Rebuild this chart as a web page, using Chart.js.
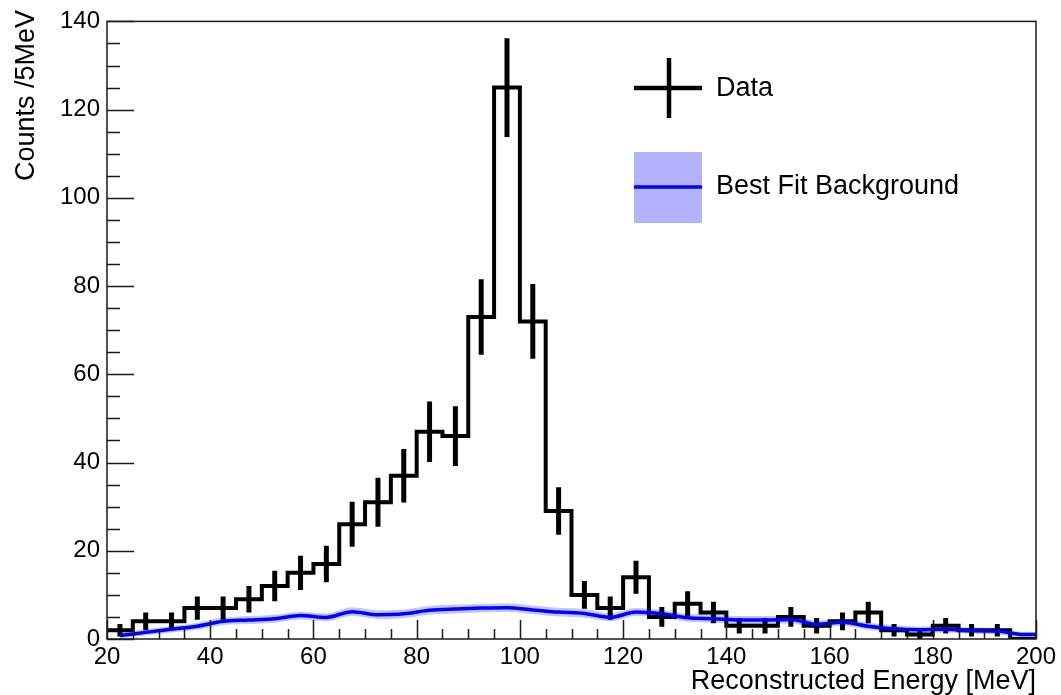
<!DOCTYPE html>
<html>
<head>
<meta charset="utf-8">
<script src="https://cdn.jsdelivr.net/npm/chart.js@4/dist/chart.umd.min.js"></script>
<style>
  html, body { margin: 0; padding: 0; background: #fff; }
  canvas { display: block; }
</style>
</head>
<body>
<canvas id="c" width="1061" height="695"></canvas>
<script>
// Reconstructed energy spectrum, 5 MeV bins from 20 to 200 MeV (left bin edges)
const binLow = [20, 25, 30, 35, 40, 45, 50, 55, 60, 65, 70, 75, 80, 85, 90, 95, 100, 105,
                110, 115, 120, 125, 130, 135, 140, 145, 150, 155, 160, 165, 170, 175, 180, 185, 190, 195];
const binWidth = 5;
const counts = [2, 4, 4, 7, 7, 9, 12, 15, 17, 26, 31, 37, 47, 46, 73, 125, 72, 29,
                10, 7, 14, 5, 8, 6, 3, 3, 5, 3, 4, 6, 2, 1, 3, 2, 2, 0];

// Best-fit background curve and its uncertainty band
const bgEnergy = [22.5, 27.5, 32.5, 37.5, 42.5, 47.5, 52.5, 57.5, 62.5, 67.5, 72.5, 77.5,
                  82.5, 87.5, 92.5, 97.5, 102.5, 107.5, 112.5, 117.5, 122.5, 127.5, 132.5, 137.5,
                  142.5, 147.5, 152.5, 157.5, 162.5, 167.5, 172.5, 177.5, 182.5, 187.5, 192.5, 197.5, 200];
const bgCounts = [0.8, 1.5, 2.2, 2.9, 4.0, 4.3, 4.6, 5.3, 4.9, 6.2, 5.5, 5.7,
                  6.5, 6.8, 7.0, 7.1, 6.6, 6.1, 5.8, 4.9, 6.1, 5.7, 4.8, 4.6,
                  4.3, 4.3, 4.4, 3.3, 3.8, 2.9, 2.3, 2.1, 2.2, 1.9, 1.8, 1.0, 1.0];
const bgBand = [0.6, 0.7, 0.7, 0.8, 0.8, 0.9, 0.9, 0.9, 0.9, 1.0, 1.0, 1.0,
                1.0, 1.0, 1.0, 1.0, 1.0, 1.0, 1.0, 0.9, 0.9, 0.9, 0.9, 0.9,
                0.9, 0.9, 0.9, 0.8, 0.8, 0.8, 0.8, 0.7, 0.7, 0.7, 0.7, 0.6, 0.6];

const xTickStep = 20;
const yTickStep = 20;

const FONT = '"Liberation Sans", Arial, Helvetica, sans-serif';

// Histogram outline: one point per left edge, closed at the last right edge
const histPts = binLow.map((x, i) => ({ x, y: counts[i] }));
histPts.push({ x: binLow[binLow.length - 1] + binWidth, y: counts[counts.length - 1] });

// Poisson error bars at bin centres, separated by gaps
const errPts = [];
counts.forEach((n, i) => {
  if (n <= 0) return;
  const xc = binLow[i] + binWidth / 2;
  const e = Math.sqrt(n);
  errPts.push({ x: xc, y: n - e }, { x: xc, y: n + e }, { x: xc, y: null });
});

const bgLine = bgEnergy.map((x, i) => ({ x, y: bgCounts[i] }));
const bgHigh = bgEnergy.map((x, i) => ({ x, y: bgCounts[i] + bgBand[i] }));
const bgLow = bgEnergy.map((x, i) => ({ x, y: bgCounts[i] - bgBand[i] }));

// Frame, inward tick marks, axis titles and legend
const decorations = {
  id: 'decorations',
  afterDatasetsDraw(chart) {
    const { ctx, chartArea: a, scales: { x, y } } = chart;
    ctx.save();
    ctx.strokeStyle = '#1a1a1a';
    ctx.lineWidth = 1.5;
    ctx.beginPath();
    for (let v = x.min; v <= x.max + 1e-9; v += 5) {
      const px = Math.round(x.getPixelForValue(v)) + 0.5;
      const len = (v % 20 === 0) ? 19 : 10;
      ctx.moveTo(px, a.bottom);
      ctx.lineTo(px, a.bottom - len);
    }
    for (let v = y.min; v <= y.max + 1e-9; v += 5) {
      const py = Math.round(y.getPixelForValue(v)) + 0.5;
      const len = (v % 20 === 0) ? 27 : 13;
      ctx.moveTo(a.left, py);
      ctx.lineTo(a.left + len, py);
    }
    ctx.stroke();
    ctx.strokeRect(a.left, a.top, a.right - a.left, a.bottom - a.top);
    ctx.restore();
  },
  afterDraw(chart) {
    const { ctx, chartArea: a } = chart;
    ctx.save();
    ctx.fillStyle = '#000';
    // axis titles
    ctx.font = '27px ' + FONT;
    ctx.textAlign = 'right';
    ctx.textBaseline = 'middle';
    ctx.fillText('Reconstructed Energy [MeV]', a.right, 682);
    ctx.save();
    ctx.translate(27, 10);
    ctx.rotate(-Math.PI / 2);
    ctx.textAlign = 'right';
    ctx.fillText('Counts /5MeV', 0, 0);
    ctx.restore();

    // legend: data marker
    ctx.strokeStyle = '#000';
    ctx.lineWidth = 4.5;
    ctx.beginPath();
    ctx.moveTo(634, 88); ctx.lineTo(702, 88);
    ctx.moveTo(669, 58); ctx.lineTo(669, 118);
    ctx.stroke();
    // legend: background band and line
    ctx.fillStyle = '#b3b3ff';
    ctx.fillRect(634, 152, 68, 71);
    ctx.strokeStyle = '#0000ff';
    ctx.lineWidth = 3.5;
    ctx.beginPath();
    ctx.moveTo(634, 187); ctx.lineTo(702, 187);
    ctx.stroke();

    ctx.fillStyle = '#000';
    ctx.font = '27px ' + FONT;
    ctx.textAlign = 'left';
    ctx.textBaseline = 'middle';
    ctx.fillText('Data', 716, 89);
    ctx.fillText('Best Fit Background', 716, 187);
    ctx.restore();
  }
};

new Chart(document.getElementById('c'), {
  type: 'line',
  data: {
    datasets: [
      {
        label: 'Best Fit Background',
        data: bgLine,
        borderColor: '#0000ff',
        borderWidth: 3.5,
        pointRadius: 0,
        fill: false,
        cubicInterpolationMode: 'monotone'
      },
      {
        label: 'Data errors',
        data: errPts,
        borderColor: '#000',
        borderWidth: 5,
        borderCapStyle: 'butt',
        pointRadius: 0,
        fill: false,
        spanGaps: false
      },
      {
        label: 'Data',
        data: histPts,
        borderColor: '#000',
        borderWidth: 4,
        borderJoinStyle: 'miter',
        pointRadius: 0,
        fill: false,
        stepped: 'before'
      },
      {
        label: 'band high',
        data: bgHigh,
        borderColor: 'rgba(0,0,0,0)',
        borderWidth: 0,
        pointRadius: 0,
        fill: false,
        cubicInterpolationMode: 'monotone'
      },
      {
        label: 'band low',
        data: bgLow,
        borderColor: 'rgba(0,0,0,0)',
        borderWidth: 0,
        pointRadius: 0,
        backgroundColor: 'rgba(150,150,255,0.55)',
        fill: '-1',
        cubicInterpolationMode: 'monotone'
      }
    ]
  },
  options: {
    responsive: false,
    animation: false,
    devicePixelRatio: 1,
    layout: { padding: { top: 20, right: 25, left: 0, bottom: 0 } },
    plugins: { legend: { display: false }, tooltip: { enabled: false } },
    scales: {
      x: {
        type: 'linear',
        min: 20,
        max: 200,
        grid: { display: false, drawTicks: false },
        border: { display: false },
        ticks: {
          stepSize: xTickStep,
          padding: 4,
          maxRotation: 0,
          autoSkip: false,
          color: '#000',
          font: { family: FONT, size: 24 }
        },
        afterFit(s) { s.height = 56; }
      },
      y: {
        type: 'linear',
        min: 0,
        max: 140,
        grid: { display: false, drawTicks: false },
        border: { display: false },
        ticks: {
          stepSize: yTickStep,
          padding: 7,
          color: '#000',
          font: { family: FONT, size: 24 }
        },
        afterFit(s) { s.width = 107; }
      }
    }
  },
  plugins: [decorations]
});
</script>
</body>
</html>
